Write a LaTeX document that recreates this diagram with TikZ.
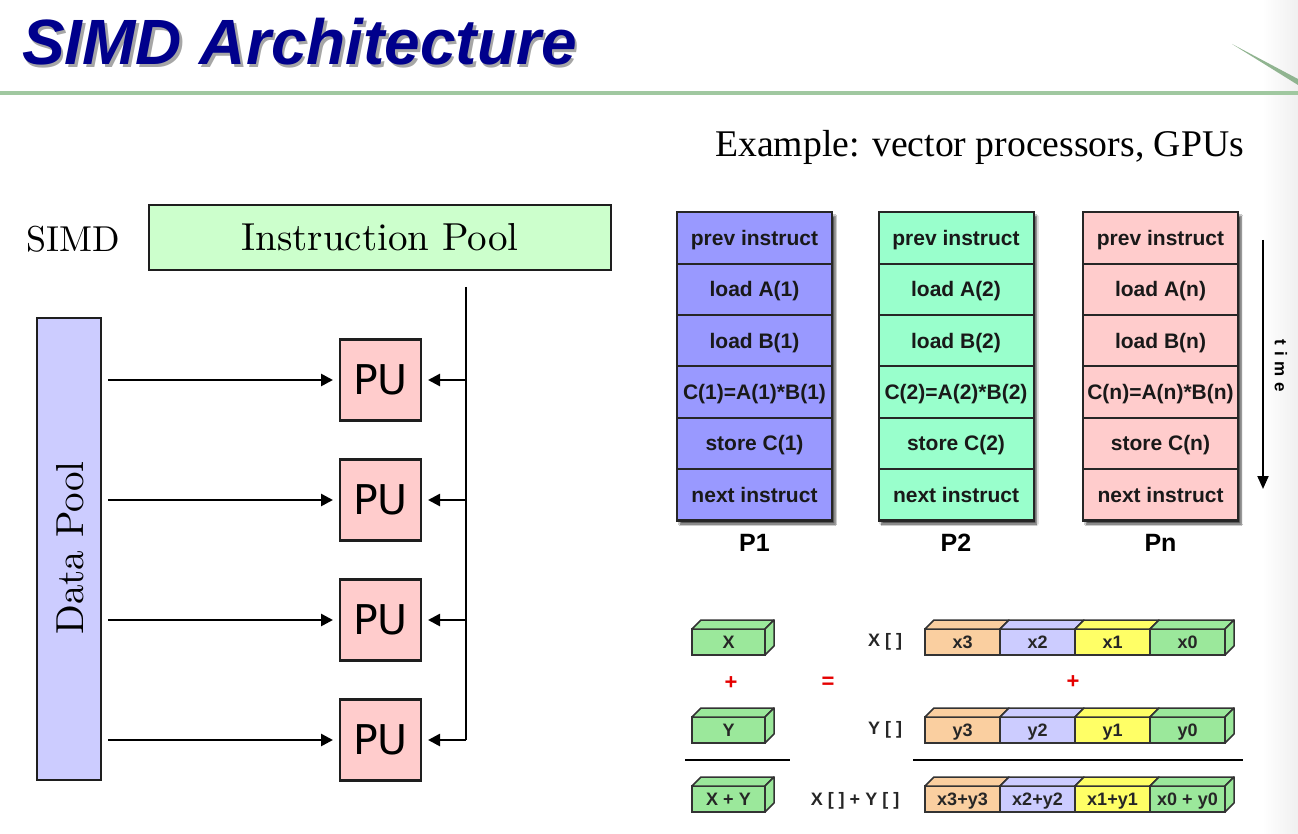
\documentclass[tikz,border=0pt]{standalone}
\usepackage{fontspec}
\newfontfamily\arialfont{Liberation Sans}
\newfontfamily\timesfont{Liberation Serif}
\newfontfamily\puFont{DejaVu Sans}
\newfontfamily\spacedfont[LetterSpace=35]{Liberation Sans}
\newfontfamily\cmten{lmroman10-regular}[Extension=.otf]
\usetikzlibrary{arrows.meta,shadows.blur,calc}

\definecolor{titleblue}{RGB}{0,0,140}
\definecolor{rulegreen}{RGB}{160,200,160}
\definecolor{poolgreen}{RGB}{204,255,204}
\definecolor{poolblue}{RGB}{204,204,255}
\definecolor{pupink}{RGB}{255,204,204}
\definecolor{colblue}{RGB}{153,153,255}
\definecolor{colgreen}{RGB}{153,255,204}
\definecolor{colpink}{RGB}{255,204,204}
\definecolor{cubeorange}{RGB}{250,207,160}
\definecolor{cubelav}{RGB}{204,204,255}
\definecolor{cubeyellow}{RGB}{255,255,102}
\definecolor{cubegreen}{RGB}{155,232,155}
\definecolor{edgegray}{RGB}{30,30,30}

% front face of a 3D cell plus its top face
\newcommand{\cubecell}[7]{%
  \node[cellfront, fill=#6, minimum width=#4, minimum height=#5] (#1) at ({#2+#4/2},{#3+#5/2}) {#7};
  \draw[cubeedge, fill=#6] (#1.north west) -- ++(9,-9) -- ++(#4,0) -- (#1.north east) -- cycle;
}
% right side face of a 3D cell
\newcommand{\cubeside}[3]{%
  \draw[cubeedge, fill=#2] (#1.north east) -- ++(9,-9) -- ++(0,#3) -- (#1.south east) -- cycle;
}

\begin{document}
\begin{tikzpicture}[x=1pt,y=-1pt,
  box/.style={draw=edgegray, line width=2.5pt, inner sep=0pt, outer sep=0pt},
  arr/.style={line width=2.6pt, -{Triangle[length=12pt,width=12pt]}},
  bus/.style={line width=2.6pt},
  cellbox/.style={draw=black!85, line width=2pt, inner sep=0pt, outer sep=0pt,
    text height=15pt, text depth=0pt,
    font=\arialfont\bfseries\fontsize{21}{23}\selectfont, text=black!90},
  colframe/.style={draw=black!85, line width=2pt, inner sep=0pt, outer sep=0pt,
    blur shadow={shadow xshift=3pt, shadow yshift=-3.5pt, shadow opacity=70, shadow blur steps=6}},
  plabel/.style={font=\arialfont\bfseries\fontsize{25}{28}\selectfont},
  cellfront/.style={draw=black!80, line width=1.5pt, inner sep=0pt, outer sep=0pt,
    text height=13pt, text depth=0pt,
    font=\arialfont\bfseries\fontsize{18}{20}\selectfont, text=black!85},
  cubeedge/.style={draw=black!80, line width=1.5pt, line join=round},
  smalllabel/.style={font=\arialfont\bfseries\fontsize{18}{20}\selectfont, text=black!85},
  redop/.style={font=\arialfont\bfseries\fontsize{22}{24}\selectfont, text=red!90!black},
  serifbig/.style={font=\cmten\fontsize{39}{44}\selectfont},
]
\useasboundingbox (0,0) rectangle (1298,834);
\fill[white] (0,0) rectangle (1298,834);
\shade[left color=white, right color=black!6] (1262,0) rectangle (1298,834);

% ---- header ----
\node[anchor=base west, inner sep=0pt, text=black!35,
  font=\arialfont\bfseries\itshape\fontsize{64}{70}\selectfont] (titleshadow) at (24.5,67.5) {SIMD Architecture};
\node[anchor=base west, inner sep=0pt, text=titleblue,
  font=\arialfont\bfseries\itshape\fontsize{64}{70}\selectfont] (title) at (22,65) {SIMD Architecture};
\draw[rulegreen, line width=3.5pt] (0,93) -- (1298,93);
\fill[rulegreen!90!black] (1232,44) -- (1298,79) -- (1298,85) -- cycle;

\node[anchor=base west, inner sep=0pt, font=\timesfont\fontsize{37.7}{42}\selectfont] (example) at (715,157) {Example: vector processors, GPUs};

% ---- left: SIMD organisation ----
\node[inner sep=0pt, font=\cmten\fontsize{36}{40}\selectfont] (simd) at (73,239) {SIMD};
\node[box, fill=poolgreen, minimum width=462, minimum height=65, serifbig] (ipool) at (380,237.5) {Instruction Pool};
\node[box, fill=poolblue, minimum width=64, minimum height=462] (dpool) at (69,549) {};
\node[rotate=90, inner sep=0pt, serifbig] (dplabel) at (70,548) {Data Pool};

\foreach \i/\y in {1/380,2/500,3/620,4/740}{
  \node[box, fill=pupink, minimum width=81, minimum height=81,
    font=\puFont\fontsize{41}{44}\selectfont] (pu\i) at (380.5,\y) {PU};
}
\coordinate (bustop) at (466,287);
\coordinate (busbot) at (466,740);
\draw[bus] (bustop) -- (busbot);
\foreach \i in {1,2,3,4}{
  \draw[arr, shorten <=7pt, shorten >=7pt] (dpool.east |- pu\i.west) -- (pu\i.west);
  \draw[arr, shorten >=7pt] (busbot |- pu\i.east) -- (pu\i.east);
}

% ---- right: per-processor instruction streams ----
\foreach \c/\x/\col/\lab/\k in {1/754.5/colblue/P1/1, 2/956/colgreen/P2/2, 3/1160.5/colpink/Pn/n}{
  \node[colframe, fill=\col, minimum width=155, minimum height=308] (col\c) at (\x,366.5) {};
  \foreach \t [count=\r] in {prev instruct, load A(\k), load B(\k), {C(\k)=A(\k)*B(\k)}, store C(\k), next instruct}{
    \node[cellbox, fill=\col, minimum width=155, minimum height=51.33] (c\c r\r) at (\x,{212.5+(\r-0.5)*51.33}) {\t};
  }
  \node[plabel] (lab\c) at (\x,543) {\lab};
}
\coordinate (tstart) at (1263,240);
\coordinate (tend) at (1263,489);
\draw[line width=2pt, -{Triangle[length=13pt,width=11pt]}] (tstart) -- (tend);
\node[rotate=-90, inner sep=0pt, font=\spacedfont\bfseries\fontsize{17}{19}\selectfont] (timelabel) at (1281,366) {time};

% ---- bottom: scalar vs vector addition ----
\cubecell{sx}{692}{629}{73}{26}{cubegreen}{X}
\cubeside{sx}{cubegreen}{26}
\cubecell{sy}{692}{717}{73}{26}{cubegreen}{Y}
\cubeside{sy}{cubegreen}{26}
\cubecell{ss}{692}{786}{73}{26}{cubegreen}{X + Y}
\cubeside{ss}{cubegreen}{26}
\node[redop] (plusa) at (731,683) {+};
\node[redop] (eqsign) at (828,683) {=};
\coordinate (ruleaL) at (685,760);
\coordinate (ruleaR) at (790,760);
\draw[line width=2.5pt] (ruleaL) -- (ruleaR);

\node[smalllabel] (xlab) at (885,642) {X [ ]};
\node[smalllabel] (ylab) at (885,730) {Y [ ]};
\node[smalllabel] (slab) at (855,801) {X [ ] + Y [ ]};

\foreach \n/\x/\col [count=\j] in {3/925/cubeorange, 2/1000/cubelav, 1/1075/cubeyellow, 0/1150/cubegreen}{
  \cubecell{vx\j}{\x}{629}{75}{26}{\col}{x\n}
  \cubecell{vy\j}{\x}{717}{75}{26}{\col}{y\n}
}
\cubecell{vs1}{925}{786}{75}{26}{cubeorange}{x3+y3}
\cubecell{vs2}{1000}{786}{75}{26}{cubelav}{x2+y2}
\cubecell{vs3}{1075}{786}{75}{26}{cubeyellow}{x1+y1}
\cubecell{vs4}{1150}{786}{75}{26}{cubegreen}{x0 + y0}
\cubeside{vx4}{cubegreen}{26}
\cubeside{vy4}{cubegreen}{26}
\cubeside{vs4}{cubegreen}{26}
\node[redop] (plusb) at (1073,682) {+};
\coordinate (rulebL) at (913,760);
\coordinate (rulebR) at (1243,760);
\draw[line width=2.5pt] (rulebL) -- (rulebR);
\end{tikzpicture}
\end{document}
